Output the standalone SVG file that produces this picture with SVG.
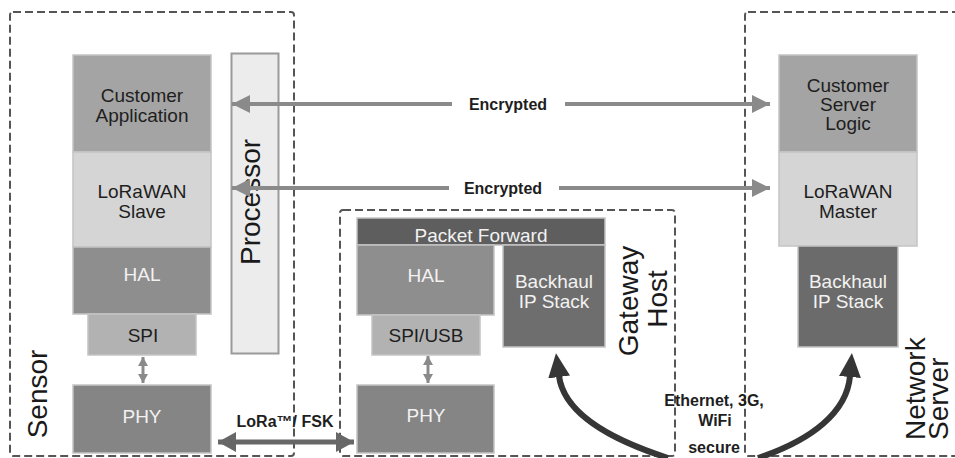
<svg xmlns="http://www.w3.org/2000/svg" width="955" height="458" viewBox="0 0 955 458">
<style>
.zone{fill:none;stroke:#555;stroke-width:2;stroke-dasharray:8 4}
.blk{stroke:#c4c4c4;stroke-width:1.5}
.t{font-family:"Liberation Sans",Arial,sans-serif;font-size:19px;text-anchor:middle}
.dk{fill:#1e1e1e}
.lt{fill:#f2f2f2}
.big{font-family:"Liberation Sans",Arial,sans-serif;font-size:28px;fill:#1a1a1a}
.lbl{font-family:"Liberation Sans",Arial,sans-serif;font-size:16px;font-weight:bold;fill:#1e1e1e;text-anchor:middle}
.enc{fill:none;stroke:#8a8a8a;stroke-width:4}
.lora{fill:none;stroke:#676767;stroke-width:5}
.small{fill:none;stroke:#8a8a8a;stroke-width:3}
.curve{fill:none;stroke:#363636;stroke-width:6}
</style>
<defs>
<marker id="ah" markerUnits="userSpaceOnUse" viewBox="0 0 18 18" markerWidth="18" markerHeight="18" refX="18" refY="9" orient="auto-start-reverse"><path d="M0,0 L18,9 L0,18 z" fill="#8a8a8a"/></marker>
<marker id="ahl" markerUnits="userSpaceOnUse" viewBox="0 0 18 20" markerWidth="18" markerHeight="20" refX="18" refY="10" orient="auto-start-reverse"><path d="M0,0 L18,10 L0,20 z" fill="#676767"/></marker>
<marker id="ahs" markerUnits="userSpaceOnUse" viewBox="0 0 9 10" markerWidth="9" markerHeight="10" refX="9" refY="5" orient="auto-start-reverse"><path d="M0,0 L9,5 L0,10 z" fill="#8a8a8a"/></marker>
<marker id="ahc" markerUnits="userSpaceOnUse" viewBox="0 0 24 22" markerWidth="24" markerHeight="22" refX="1" refY="11" orient="auto"><path d="M0,0 L24,11 L0,22 z" fill="#363636"/></marker>
</defs>
<rect width="955" height="458" fill="#ffffff"/>

<g id="zones">
<rect class="zone" x="10" y="12" width="284" height="444" rx="3"/>
<rect class="zone" x="340" y="210" width="335" height="246" rx="3"/>
<rect class="zone" x="745" y="12" width="230" height="444" rx="3"/>
</g>

<g id="sensor-label"><text class="big" transform="translate(47,394) rotate(-90)" text-anchor="middle" font-size="29">Sensor</text></g>

<g id="customer-application"><rect class="blk" x="73" y="55" width="138" height="97" fill="#a4a4a4"/><text class="t dk" x="142" y="102">Customer</text><text class="t dk" x="142" y="122">Application</text></g>
<g id="lorawan-slave"><rect class="blk" x="73" y="152" width="138" height="95" fill="#d5d5d5" stroke="#e6e6e6"/><text class="t dk" x="142" y="198">LoRaWAN</text><text class="t dk" x="142" y="218">Slave</text></g>
<g id="hal-sensor"><rect class="blk" x="73" y="247" width="138" height="67" fill="#8e8e8e" stroke="#a6a6a6"/><text class="t lt" x="142" y="281" font-size="20">HAL</text></g>
<g id="spi-sensor"><rect class="blk" x="88" y="314" width="108" height="41" fill="#b2b2b2" stroke="#c8c8c8"/><text class="t dk" x="143" y="342" font-size="20">SPI</text></g>
<g id="phy-sensor"><rect class="blk" x="73" y="385" width="138" height="68" fill="#858585" stroke="#9c9c9c"/><text class="t lt" x="142" y="423" font-size="20">PHY</text></g>
<g id="processor"><rect x="231.5" y="53.5" width="47" height="300" fill="#ececec" stroke="#9a9a9a" stroke-width="2"/><text class="big" transform="translate(260,202) rotate(-90)" text-anchor="middle" font-size="27">Processor</text></g>

<g id="packet-forward"><rect class="blk" x="357" y="218" width="248" height="27" fill="#5e5e5e" stroke="#777"/><text class="t lt" x="481" y="242" font-size="21">Packet Forward</text></g>
<g id="hal-gateway"><rect class="blk" x="357" y="245" width="137" height="70" fill="#8e8e8e" stroke="#a6a6a6"/><text class="t lt" x="426" y="282" font-size="20">HAL</text></g>
<g id="spi-usb"><rect class="blk" x="372" y="315" width="108" height="40" fill="#b2b2b2" stroke="#c8c8c8"/><text class="t dk" x="426" y="342" font-size="20">SPI/USB</text></g>
<g id="backhaul-gateway"><rect class="blk" x="503" y="245" width="102" height="102" fill="#6e6e6e" stroke="#888"/><text class="t lt" x="554" y="288">Backhaul</text><text class="t lt" x="554" y="308">IP Stack</text></g>
<g id="phy-gateway"><rect class="blk" x="357" y="385" width="137" height="68" fill="#858585" stroke="#9c9c9c"/><text class="t lt" x="426" y="422" font-size="20">PHY</text></g>
<g id="gateway-label"><text class="big" transform="translate(638,301) rotate(-90)" text-anchor="middle">Gateway</text><text class="big" transform="translate(667,299) rotate(-90)" text-anchor="middle">Host</text></g>

<g id="customer-server-logic"><rect class="blk" x="779" y="55" width="138" height="97" fill="#a4a4a4"/><text class="t dk" x="848" y="92">Customer</text><text class="t dk" x="848" y="111">Server</text><text class="t dk" x="848" y="130">Logic</text></g>
<g id="lorawan-master"><rect class="blk" x="779" y="152" width="138" height="94" fill="#d5d5d5" stroke="#e6e6e6"/><text class="t dk" x="848" y="198">LoRaWAN</text><text class="t dk" x="848" y="218">Master</text></g>
<g id="backhaul-ns"><rect class="blk" x="798" y="246" width="100" height="101" fill="#6b6b6b" stroke="#868686"/><text class="t lt" x="848" y="288">Backhaul</text><text class="t lt" x="848" y="308">IP Stack</text></g>
<g id="ns-label"><text class="big" transform="translate(925,440) rotate(-90)">Network</text><text class="big" transform="translate(948,440) rotate(-90)">Server</text></g>

<g id="connectors">
<path class="enc" d="M232,104 H452 M565,104 H770" marker-start="url(#ah)" marker-end="url(#ah)"/>
<text class="lbl" x="508" y="110" font-size="17">Encrypted</text>
<path class="enc" d="M232,188 H449 M559,188 H770" marker-start="url(#ah)" marker-end="url(#ah)"/>
<text class="lbl" x="503" y="194" font-size="17">Encrypted</text>
<path class="small" d="M143,357 V383" marker-start="url(#ahs)" marker-end="url(#ahs)"/>
<path class="small" d="M428,356 V383" marker-start="url(#ahs)" marker-end="url(#ahs)"/>
<path class="lora" d="M218,442 H354" marker-start="url(#ahl)" marker-end="url(#ahl)"/>
<text class="lbl" x="285" y="427">LoRa™/ FSK</text>
<path class="curve" d="M668,458 C612,440 564,414 559,376" marker-end="url(#ahc)"/>
<path class="curve" d="M758,458 C812,440 847,412 850,376" marker-end="url(#ahc)"/>
<text class="lbl" x="714" y="406" font-size="17">Ethernet, 3G,</text>
<text class="lbl" x="715" y="426" font-size="17">WiFi</text>
<text class="lbl" x="714" y="453">secure</text>
</g>
</svg>
